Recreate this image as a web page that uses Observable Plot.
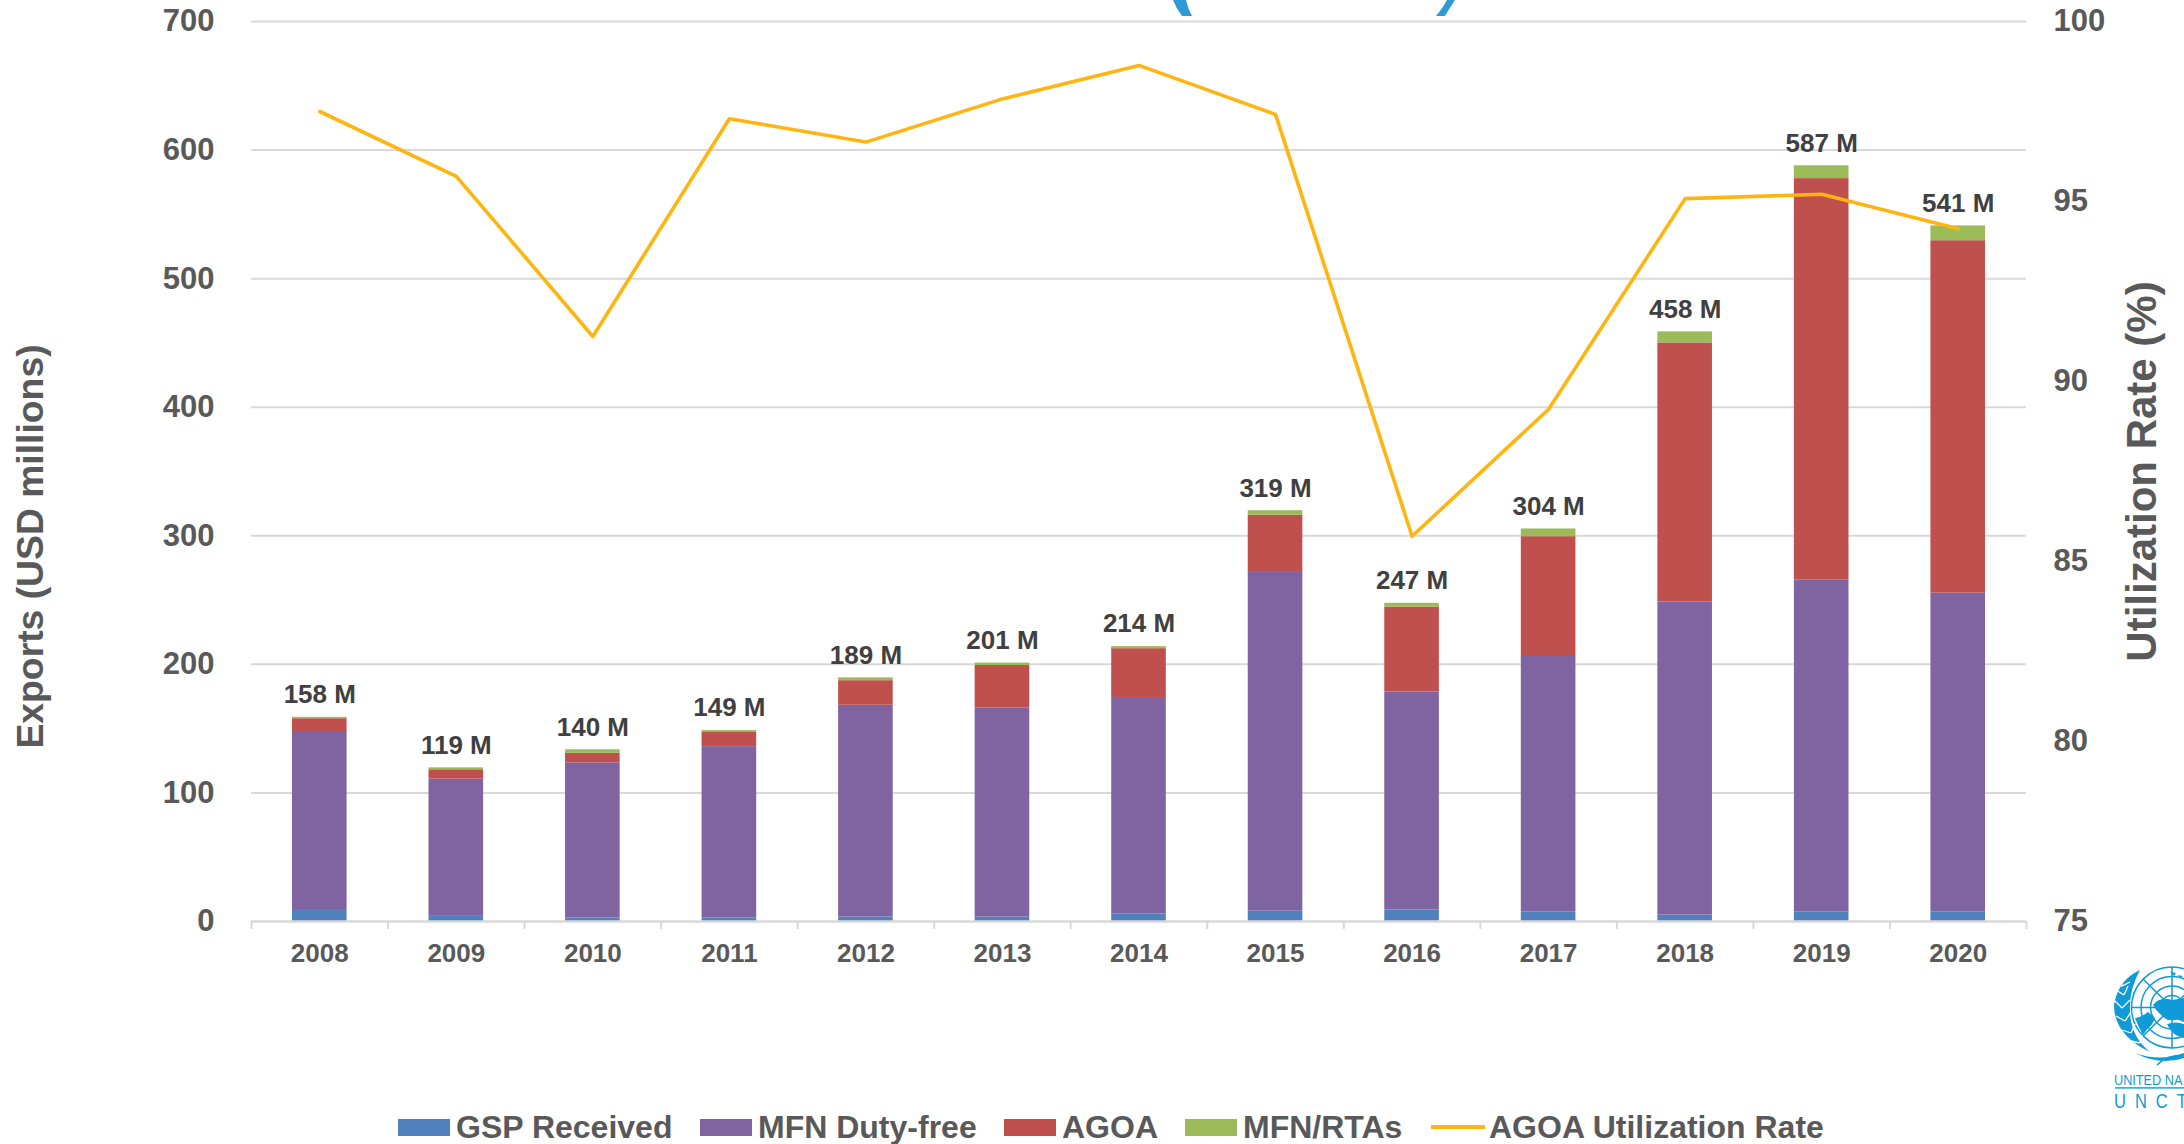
<!DOCTYPE html>
<html><head><meta charset="utf-8">
<script src="https://cdn.jsdelivr.net/npm/d3@7"></script>
<script src="https://cdn.jsdelivr.net/npm/@observablehq/plot@0.6"></script>
<style>
html,body{margin:0;padding:0;background:#fff;width:2184px;height:1144px;overflow:hidden;position:relative;font-family:"Liberation Sans",Arial,sans-serif}
svg{display:block}
#legend{display:flex;align-items:center;margin:109px 0 0 398px;height:36px;line-height:36px;font-size:32px;font-weight:700;color:#595959;white-space:nowrap}
#legend .k{display:flex;align-items:center;gap:6px}
#logo,#arcs{position:absolute;left:0;top:0}
</style></head><body>
<div id="chart"></div>
<div id="legend"></div>
<svg id="arcs" width="2184" height="20"><path d="M1173 0L1186 0Q1188 9 1192 16L1182 16Q1176 8 1173 0Z" fill="#2E9AD6"/><path d="M1447 0L1455 0Q1449 9 1445 16L1436 16Q1443 8 1447 0Z" fill="#2E9AD6"/></svg>
<svg id="logo" width="2184" height="1144" style="pointer-events:none">
 <g fill="none" stroke="#0F9BD7" stroke-width="1.5">
  <circle cx="2172" cy="1007.5" r="40.5"/><circle cx="2172" cy="1007.5" r="31"/><circle cx="2172" cy="1007.5" r="21.5"/><circle cx="2172" cy="1007.5" r="12"/>
  <path d="M2172 967V1048M2131.5 1007.5H2184M2143 979L2184 1019.5M2143 1036L2184 995.5"/>
  <path d="M2157 1065Q2166 1055 2184 1055"/>
 </g>
 <g fill="#0F9BD7">
  <path d="M2135 1018Q2142 1017 2148 1012L2155 1018Q2152 1026 2148 1028L2143 1035Q2138 1026 2135 1018Z"/>
  <path d="M2153 1005Q2160 996 2172 1000L2184 998V1022Q2176 1018 2168 1020Q2158 1014 2153 1005Z"/>
  <path d="M2167 1024Q2176 1021 2184 1024V1038Q2172 1036 2167 1024Z"/>
  <path d="M2170 972l6 1l-2 3zM2178 975l5 1l-3 2z"/>
  <path d="M2140 970Q2118 980 2114 1005Q2114 1035 2150 1052Q2130 1036 2130 1010Q2129 990 2140 970Z"/>
  <path d="M2135 1053Q2160 1062 2184 1053V1058Q2160 1066 2135 1053Z"/>
  <rect x="2115" y="1087.2" width="69" height="1.4"/>
  <text transform="translate(2114 1085) scale(1 1.18)" font-size="12.7" font-family="Liberation Sans,Arial,sans-serif">UNITED NA</text>
  <text transform="translate(2114 1108) scale(1 1.27)" font-size="16.5" letter-spacing="9" font-family="Liberation Sans,Arial,sans-serif">UNCT</text>
 </g>
 <g fill="none" stroke="#fff" stroke-width="1.3">
  <path d="M2130 982L2122 986L2121 977M2124 995L2116 990M2124 995L2128 986M2122 1008L2114 1000M2122 1008L2130 1000M2125 1021L2116 1016M2125 1021L2131 1012M2131 1033L2122 1030M2131 1033L2135 1024M2140 1043L2131 1041M2140 1043L2142 1035"/>
 </g>
</svg>
<script>
const years = [2008,2009,2010,2011,2012,2013,2014,2015,2016,2017,2018,2019,2020];
const gsp  = [8.6,4.6,2.7,2.7,3.5,3.5,5.9,8,8.9,7.5,5,7.5,7.5];
const mfn  = [138.4,106.1,120.7,133.3,164.7,162.5,168.3,263.5,169.6,198.6,243.5,258,247.9];
const agoa = [10.7,7.3,7.4,11.5,19.1,33.1,38,44.5,66,93.2,201.5,312.3,274.1];
const rtas = [1.1,1.5,2.8,1,2.2,1.9,1.6,3.5,3,6,8.6,10,11.5];
const labels = ["158 M","119 M","140 M","149 M","189 M","201 M","214 M","319 M","247 M","304 M","458 M","587 M","541 M"];
const utilization = [97.5,95.7,91.25,97.3,96.65,97.85,98.78,97.42,85.7,89.23,95.08,95.2,94.24];
const seriesNames = ["GSP Received","MFN Duty-free","AGOA","MFN/RTAs"];
const seriesValues = [gsp,mfn,agoa,rtas];
const seriesColors = ["#4F81BD","#8064A2","#C0504D","#9BBB59"];
const lineName = "AGOA Utilization Rate", lineColor = "#FFB511";
const leftTicks = [0,100,200,300,400,500,600,700];
const rightTicks = [75,80,85,90,95,100];
const edgeTicks = [...years.map(y=>y-0.5), 2020.5];

const toLeft = v => (v-75)*700/25;
const fromLeft = v => v*25/700+75;
const rows = [];
years.forEach((year,i)=>{
  let base = 0;
  seriesValues.forEach((s,j)=>{
    rows.push({year, series:seriesNames[j], y1:base, y2:base+s[i]});
    base += s[i];
  });
});
const tops = years.map((year,i)=>({year, top:d3.sum(seriesValues,s=>s[i]), label:labels[i]}));
const lineRows = years.map((year,i)=>({year, v:toLeft(utilization[i])}));
const font = "Liberation Sans, Arial, sans-serif";
const grey = "#595959";

const plot = Plot.plot({
  width:2184, height:1000,
  marginTop:21, marginBottom:79, marginLeft:251, marginRight:158,
  style:{fontFamily:font, background:"#fff", overflow:"visible"},
  x:{domain:[2007.5,2020.5], axis:null},
  y:{domain:[0,700], axis:null},
  color:{domain:seriesNames, range:seriesColors},
  marks:[
    Plot.ruleY(leftTicks.slice(1),{stroke:"#D9D9D9",strokeWidth:2}),
    Plot.rect(rows,{x1:d=>d.year-0.2,x2:d=>d.year+0.2,y1:"y1",y2:"y2",fill:"series"}),
    Plot.ruleY([0],{stroke:"#D9D9D9",strokeWidth:2.5}),
    Plot.axisX(edgeTicks,{anchor:"bottom",tickSize:8,tickFormat:()=>"",stroke:"#D9D9D9",strokeWidth:2,label:null}),
    Plot.axisX(years,{anchor:"bottom",tickSize:0,tickPadding:22,tickFormat:"d",fontSize:26,fontWeight:700,color:grey,label:null}),
    Plot.axisY(leftTicks,{anchor:"left",tickSize:0,tickPadding:37,fontSize:31,fontWeight:700,color:grey,label:null}),
    Plot.axisY(rightTicks.map(toLeft),{anchor:"right",tickSize:0,tickPadding:27,tickFormat:v=>String(Math.round(fromLeft(v))),fontSize:31,fontWeight:700,color:grey,label:null}),
    Plot.line(lineRows,{x:"year",y:"v",stroke:lineColor,strokeWidth:3.6,curve:"linear"}),
    Plot.text(tops,{x:"year",y:"top",text:"label",dy:-22.5,fontSize:26,fontWeight:700,fill:"#404040"}),
    Plot.text(["Exports (USD millions)"],{frameAnchor:"left",textAnchor:"middle",rotate:-90,dx:-220,dy:75,fontSize:37.3,fontWeight:700,fill:grey}),
    Plot.text(["Utilization Rate (%)"],{frameAnchor:"right",textAnchor:"middle",rotate:-90,dx:116,fontSize:42,fontWeight:700,fill:grey})
  ]
});
document.getElementById("chart").appendChild(plot);

const legend = document.getElementById("legend");
const itemWidths = [302,304,181,246];
seriesNames.forEach((n,i)=>{
  const k=document.createElement("div");k.className="k";k.style.width=itemWidths[i]+"px";
  k.innerHTML=`<span style="display:block;width:52px;height:17px;background:${seriesColors[i]}"></span><span>${n}</span>`;
  legend.appendChild(k);
});
const k=document.createElement("div");k.className="k";k.style.gap="4px";
k.innerHTML=`<span style="display:block;width:54px;height:4px;background:${lineColor}"></span><span>${lineName}</span>`;
legend.appendChild(k);
</script>
</body></html>
